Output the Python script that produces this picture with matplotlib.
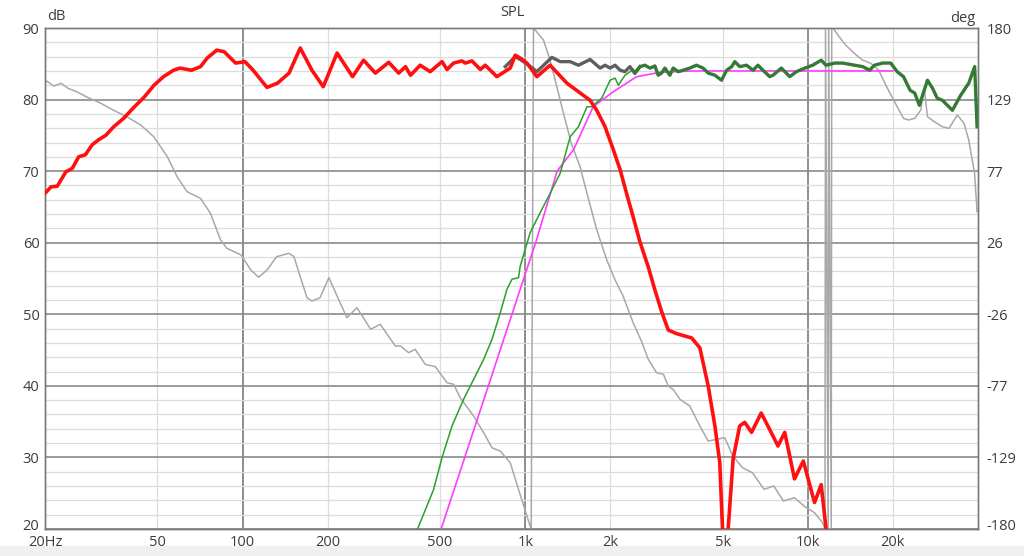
import numpy as np
import matplotlib
matplotlib.use("Agg")
import matplotlib.pyplot as plt
from matplotlib.ticker import FixedLocator, NullFormatter
from matplotlib.patches import Rectangle
from matplotlib.transforms import ScaledTranslation

# ---- woofer SPL (red, dB) ----
woofer_f = [20, 21, 22.1, 23.7, 25, 26.3, 27.8, 29.4, 31, 32.8, 35, 38, 41, 45, 48.6,
            52.5, 57, 60, 66, 71, 75, 81, 86, 94.5, 102, 109, 122, 133, 146, 160,
            176, 193, 216, 245, 268, 295, 329, 357, 377, 393, 425, 461, 508, 529,
            558, 597, 614, 648, 694, 722, 794, 885, 922, 960, 1014, 1100, 1225,
            1404, 1543, 1697, 1791, 1917, 2050, 2167, 2283, 2410, 2548, 2726, 2877,
            3037, 3208, 3430, 3720, 3880, 4150, 4440, 4690, 4880, 4990, 5100, 5225,
            5440, 5740, 5980, 6320, 6840, 7330, 7840, 8285, 8970, 9640, 10560,
            11150, 11600, 11800]
woofer_db = [66.9, 67.8, 67.9, 69.9, 70.4, 72.0, 72.3, 73.7, 74.4, 75.0, 76.2, 77.4,
             78.8, 80.4, 82.0, 83.2, 84.1, 84.4, 84.1, 84.6, 85.8, 86.9, 86.7, 85.1,
             85.3, 84.1, 81.7, 82.3, 83.7, 87.2, 84.1, 81.8, 86.5, 83.2, 85.5, 83.7,
             85.2, 83.7, 84.6, 83.4, 84.8, 83.9, 85.3, 84.2, 85.1, 85.4, 85.1, 85.4,
             84.2, 84.8, 83.2, 84.4, 86.2, 85.8, 85.1, 83.2, 84.8, 82.3, 81.1, 79.9,
             78.5, 76.2, 73.0, 70.2, 66.9, 63.6, 60.1, 56.6, 53.4, 50.4, 47.8, 47.3,
             46.9, 46.7, 45.3, 40.0, 34.4, 29.3, 20.0, 8.0, 20.0, 29.8, 34.4, 34.9,
             33.5, 36.2, 33.9, 31.6, 33.5, 27.0, 29.5, 23.7, 26.2, 20.0, 12.0]

# ---- summed response (dark grey, dB) ----
sum_f = [850, 922, 960, 1014, 1100, 1243, 1330, 1442, 1543, 1697, 1841, 1917, 1997,
         2080, 2167, 2255, 2347, 2443, 2548]
sum_db = [84.6, 86.0, 85.6, 85.0, 83.9, 85.9, 85.3, 85.3, 84.8, 85.6, 84.4, 84.8,
          84.4, 84.8, 84.1, 83.9, 84.6, 83.7, 84.6]

# ---- tweeter SPL (dark green, dB) ----
tweet_f = [2443, 2548, 2650, 2765, 2877, 2955, 3037, 3121, 3250, 3338, 3480, 3620,
           3823, 4035, 4260, 4440, 4690, 4950, 5160, 5380, 5515, 5740, 6070, 6400,
           6660, 6940, 7330, 7530, 8060, 8630, 9110, 9760, 10400, 11150, 11600,
           12460, 13300, 14650, 15650, 16540, 17200, 18400, 19650, 20700, 21800,
           23000, 23900, 24800, 26500, 27600, 28700, 29930, 32470, 34730, 37110,
           38930, 39700]
tweet_db = [83.7, 84.6, 84.8, 84.4, 84.7, 83.4, 83.7, 84.4, 83.4, 84.4, 83.9, 84.1,
            84.4, 84.8, 84.4, 83.7, 83.4, 82.7, 84.1, 84.6, 85.3, 84.6, 84.8, 84.1,
            84.8, 84.1, 83.2, 83.4, 84.4, 83.2, 83.9, 84.4, 84.8, 85.5, 84.8, 85.1,
            85.1, 84.8, 84.6, 84.1, 84.8, 85.1, 85.1, 83.9, 83.2, 81.3, 80.9, 79.2,
            82.7, 81.6, 80.2, 79.9, 78.5, 80.6, 82.3, 84.6, 76.2]

# ---- tweeter filtered slope (thin green, dB) ----
tw_thin_f = [416, 474, 508, 551, 605, 657, 713, 763, 816, 862, 898, 947, 960, 1041,
             1130, 1225, 1330, 1442, 1543, 1654, 1720, 1866, 1997, 2080, 2137, 2255,
             2410]
tw_thin_db = [20.0, 25.5, 30.0, 34.4, 38.1, 40.9, 43.7, 46.5, 50.2, 53.5, 54.9, 55.1,
              56.7, 61.4, 64.2, 66.9, 69.7, 74.8, 76.2, 79.0, 79.0, 80.2, 82.7, 83.0,
              82.0, 83.4, 84.2]

# ---- target curve (magenta, dB) ----
target_f = [504, 898, 960, 1089, 1297, 1483, 1740, 2050, 2480, 2995, 3900, 20000]
target_db = [20.0, 50.0, 53.5, 60.0, 70.0, 73.0, 79.0, 81.1, 83.2, 83.8, 84.0, 84.0]

# ---- phase (thin grey, deg) ----
phase_f = [20, 21.5, 22.8, 24.1, 25.9, 28, 31.5, 34.8, 38.9, 43.6, 48.5, 54.2, 58.7,
           63.6, 71, 77, 83.6, 88, 98.8, 107, 114, 122, 132, 146, 152, 160, 169, 176,
           188, 202, 216, 234, 254, 284, 307, 347, 362, 387, 408, 443, 481, 529, 558,
           589, 657, 713, 763, 816, 885, 947, 1041, 1050, 1070, 1160, 1225, 1294,
           1366, 1456, 1564, 1654, 1791, 1944, 2080, 2220, 2410, 2577, 2726, 2916,
           3085, 3208, 3338, 3530, 3823, 4150, 4440, 4750, 5080, 5430, 5880, 6370,
           7000, 7580, 8200, 8970, 9690, 10560, 11280, 11500, 11550, 11800, 11850,
           12100, 12150, 12260, 12900, 13600, 14600, 15600, 16700, 17800, 19000,
           20400, 21800, 22700, 23900, 25100, 25800, 26500, 28000, 29900, 31600,
           33800, 35700, 37100, 38900, 39700]
phase_deg = [142.6, 138.3, 140.3, 136.7, 134.2, 130.6, 125.9, 121.1, 116.3, 110.3,
             101.9, 87.5, 73.1, 62.4, 57.6, 46.8, 27.7, 21.7, 16.9, 6.1, 0.9, 6.1,
             15.7, 18.1, 15.7, 1.3, -13.8, -16.2, -13.8, 0.6, -12.6, -28.2, -21.0,
             -36.5, -32.9, -48.5, -48.5, -53.3, -50.9, -61.7, -63.4, -74.9, -76.0,
             -85.7, -98.8, -110.8, -121.6, -124.0, -132.4, -151.5, -177.9, -180,
             180, 171.4, 157.0, 137.8, 118.7, 97.1, 80.3, 61.2, 35.0, 13.3, -1.1,
             -12.6, -31.8, -44.9, -58.1, -67.7, -68.9, -77.3, -79.7, -86.9, -91.6,
             -106.0, -116.8, -115.6, -114.4, -127.6, -136.0, -139.6, -151.5, -149.1,
             -159.9, -157.5, -163.5, -168.3, -175.5, -180, 180, -180, 180,
             -180, 180, 180, 173.8, 167.8, 161.8, 157.0, 154.6, 149.8, 137.8,
             125.9, 115.1, 113.9, 115.1, 121.1, 136.7, 116.3, 112.7, 109.1,
             107.9, 117.5, 111.5, 99.5, 75.6, 48.0]

x_ticks = [20, 50, 100, 200, 500, 1000, 2000, 5000, 10000, 20000]
x_labels = ["20Hz", "50", "100", "200", "500", "1k", "2k", "5k", "10k", "20k"]
db_ticks = [20, 30, 40, 50, 60, 70, 80, 90]
deg_labels = ["-180", "-129", "-77", "-26", "26", "77", "129", "180"]

TXT = "#3c3c3c"
plt.rcParams["font.family"] = ["Open Sans", "DejaVu Sans"]

fig = plt.figure(figsize=(10.24, 5.56), dpi=100)
fig.patches.append(Rectangle((0, 0), 1, 10 / 556, transform=fig.transFigure,
                             color="#f0f0f0", zorder=0))
ax = fig.add_axes([45 / 1024, 1 - 529 / 556, 933 / 1024, 501 / 556])
ax2 = ax.twinx()

ax.set_xscale("log")
ax.set_xlim(20, 40000)
ax.set_ylim(20, 90)
ax2.set_ylim(-180, 180)

# grid is drawn on the phase axes, which sits behind the SPL axes
ax.set_zorder(ax2.get_zorder() + 1)
ax.patch.set_visible(False)
ax2.patch.set_facecolor("white")

minor_x = [m * d for d in (10, 100, 1000, 10000) for m in range(2, 10)
           if 20 <= m * d <= 40000 and m * d not in (100, 1000, 10000)]
ax.xaxis.set_major_locator(FixedLocator(x_ticks))
ax.xaxis.set_minor_locator(FixedLocator(minor_x))
ax.xaxis.set_minor_formatter(NullFormatter())
ax.set_xticklabels(x_labels)

deg_major = np.linspace(-180, 180, 8)
deg_minor = np.linspace(-180, 180, 36)
ax2.set_yticks(deg_major)
ax2.set_yticklabels(deg_labels)
ax2.yaxis.set_minor_locator(FixedLocator(deg_minor))
ax.set_yticks(db_ticks)

ax2.grid(True, which="minor", axis="both", color="#dcdcdc", lw=0.9)
ax2.grid(True, which="major", axis="y", color="#8a8a8a", lw=1.2)
for xv in (20, 50, 200, 500, 2000, 5000, 20000):
    ax2.axvline(xv, color="#dcdcdc", lw=0.9, zorder=0.5)
for xv in (100, 1000, 10000):
    ax2.axvline(xv, color="#7a7a7a", lw=1.2, zorder=0.6)

for a in (ax, ax2):
    a.tick_params(which="both", length=0, colors=TXT, labelsize=10.5)
    for s in a.spines.values():
        s.set_color("#7a7a7a")
        s.set_linewidth(1.0)
ax.tick_params(axis="y", pad=4)
ax2.tick_params(axis="y", pad=6)
ax.tick_params(axis="x", pad=4)

# lift the bottom y labels a little so they clear "20Hz"
lift = ScaledTranslation(0, 4 / 100, fig.dpi_scale_trans)
for lbl in (ax.get_yticklabels()[0], ax2.get_yticklabels()[0]):
    lbl.set_transform(lbl.get_transform() + lift)

ax2.plot(phase_f, phase_deg, color="#a8a8a8", lw=1.1, zorder=2)

ax.plot(target_f, target_db, color="#ff3cff", lw=1.2, zorder=2)
ax.plot(tw_thin_f, tw_thin_db, color="#2aa02a", lw=1.1, zorder=3)
ax.plot(sum_f, sum_db, color="#5e5e5e", lw=2.4, zorder=4)
ax.plot(tweet_f, tweet_db, color="#347a34", lw=2.4, zorder=5)
ax.plot(woofer_f, woofer_db, color="#ff1010", lw=2.6, zorder=6)

fig.text(47 / 1024, 1 - 17 / 556, "dB", ha="left", va="center", color=TXT, fontsize=10.5)
fig.text(512 / 1024, 1 - 13 / 556, "SPL", ha="center", va="center", color=TXT, fontsize=10.5)
fig.text(975 / 1024, 1 - 18 / 556, "deg", ha="right", va="center", color=TXT, fontsize=10.5)

fig.savefig("out.png", dpi=100)
